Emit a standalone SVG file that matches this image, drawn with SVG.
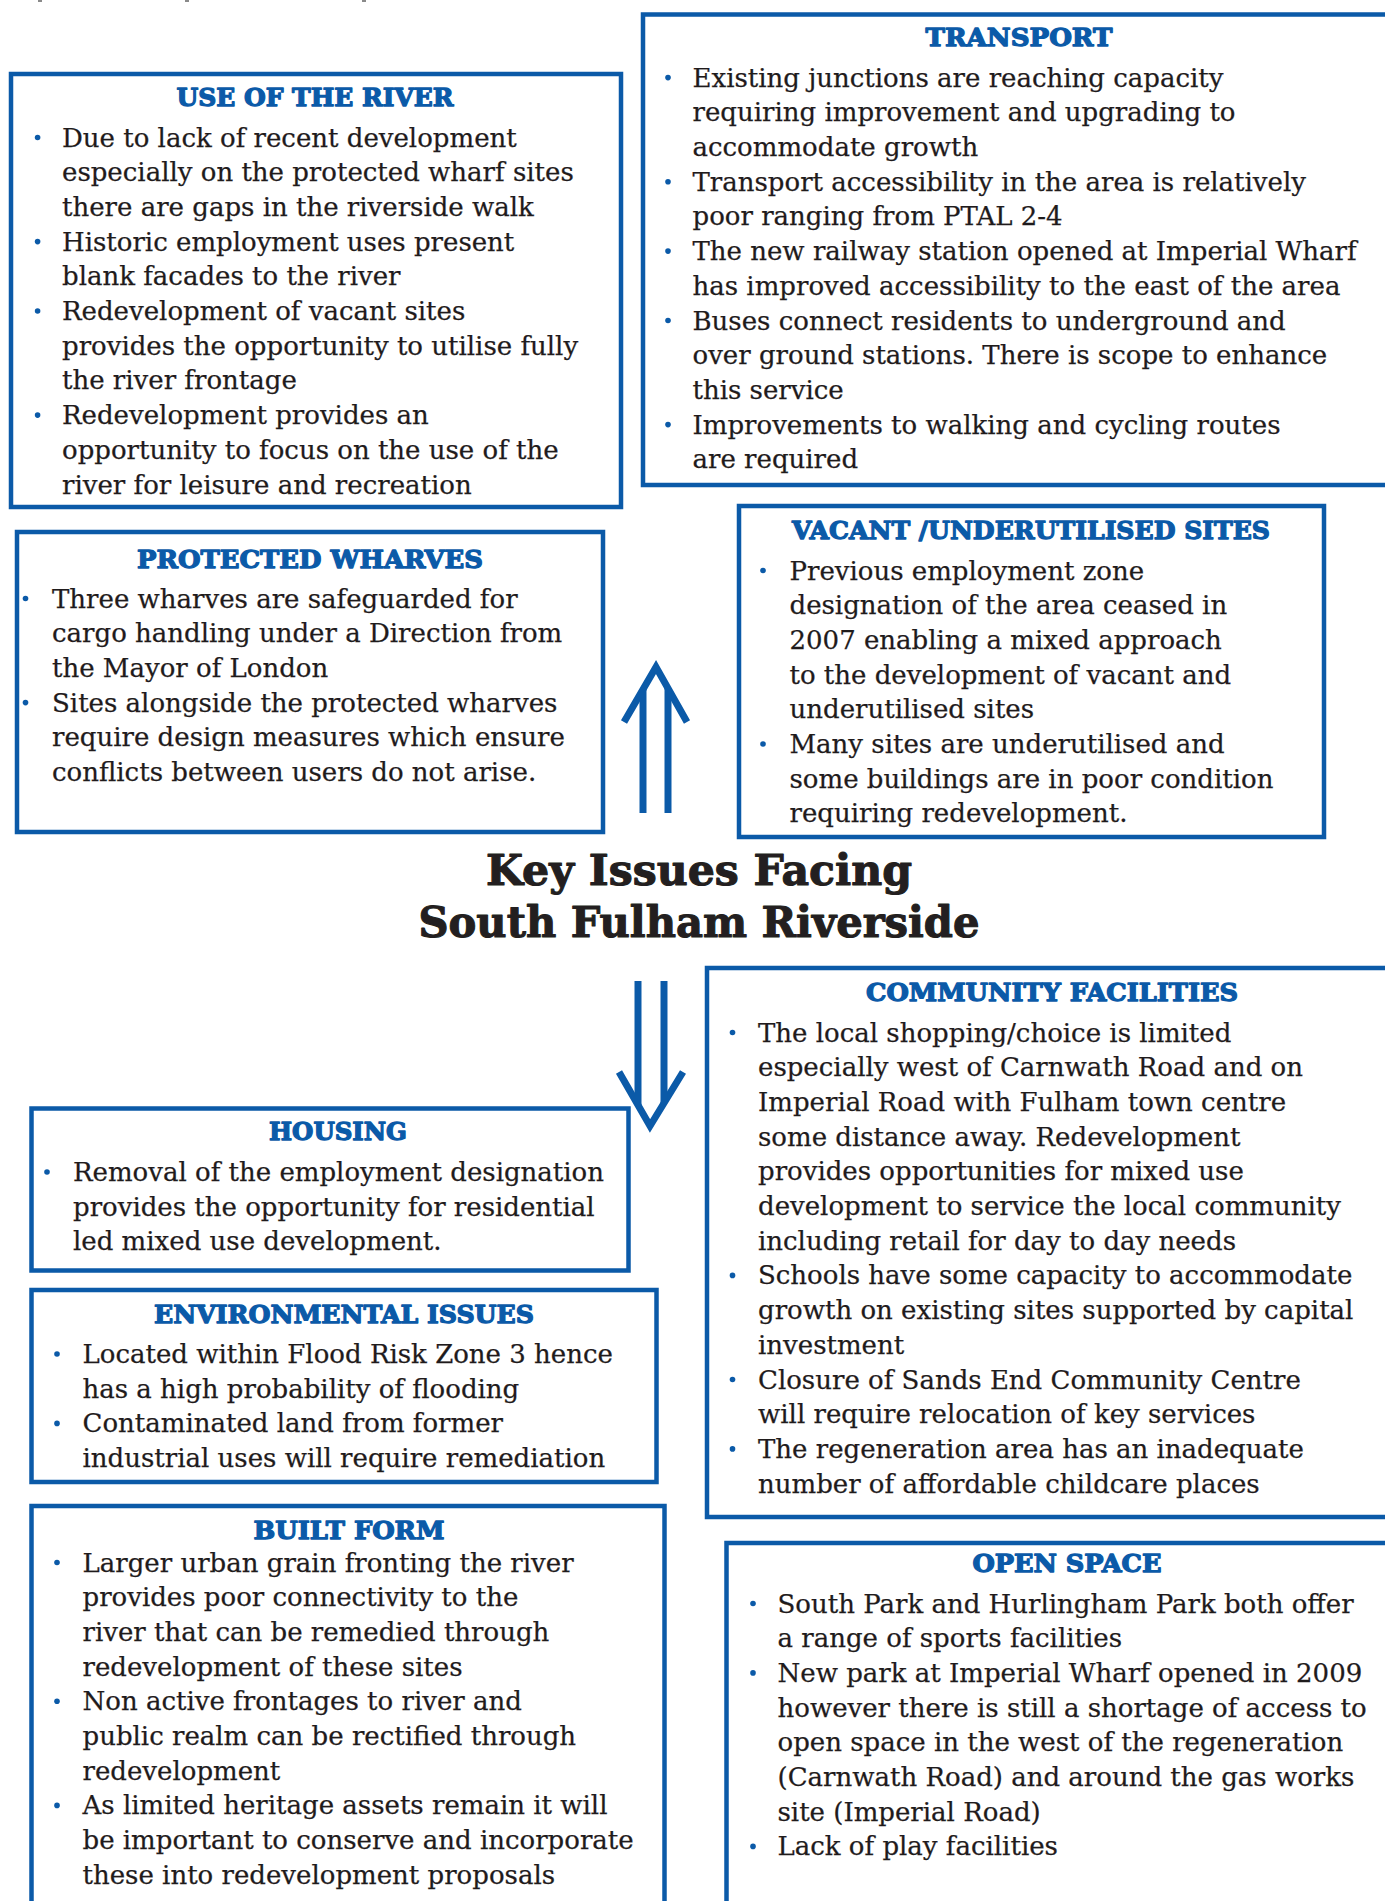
<svg xmlns="http://www.w3.org/2000/svg" width="1385" height="1901" viewBox="0 0 1385 1901">
  <defs>
    <style>
      .box { fill: none; stroke: #0b5aa8; stroke-width: 4.5; }
      .hd { font-family: "DejaVu Serif", "Liberation Serif", serif; font-weight: bold; font-size: 25px; fill: #0b5aa8; stroke: #0b5aa8; stroke-width: 1.3; stroke-linejoin: round; text-anchor: middle; }
      .tx { font-family: "DejaVu Serif", "Liberation Serif", serif; font-size: 26px; fill: #1f1b1c; stroke: #1f1b1c; stroke-width: 0.25; }
      .dot { fill: #0b5aa8; }
      .ttl { font-family: "DejaVu Serif", "Liberation Serif", serif; font-weight: bold; font-size: 42px; fill: #231f20; stroke: #231f20; stroke-width: 1.1; stroke-linejoin: round; text-anchor: middle; }
      .arw { fill: none; stroke: #0b5aa8; stroke-width: 7; stroke-linecap: butt; stroke-linejoin: miter; }
      .frag { fill: #8a8a8a; }
    </style>
  </defs>
  <rect width="1385" height="1901" fill="#ffffff"/>

  <!-- descender fragments of a caption cropped off the top edge -->
  <g id="cropped-caption">
    <rect class="frag" x="38" y="0" width="4" height="2"/>
    <rect class="frag" x="185" y="0" width="4" height="2"/>
    <rect class="frag" x="362" y="0" width="4" height="2"/>
  </g>

  <!-- central heading -->
  <g id="title">
    <text class="ttl" x="699" y="885" textLength="426" lengthAdjust="spacingAndGlyphs">Key Issues Facing</text>
    <text class="ttl" x="699" y="937" textLength="561" lengthAdjust="spacingAndGlyphs">South Fulham Riverside</text>
  </g>

  <!-- connectors: double-stroke arrows above and below the heading -->
  <g id="connectors">
    <g id="arrow-up">
      <polyline class="arw" points="624,722 656,667 687,722"/>
      <line class="arw" x1="643" y1="813" x2="643" y2="689"/>
      <line class="arw" x1="668" y1="813" x2="668" y2="688"/>
    </g>
    <g id="arrow-down">
      <polyline class="arw" points="619,1072 650,1126 683,1072"/>
      <line class="arw" x1="638" y1="981" x2="638" y2="1105"/>
      <line class="arw" x1="664" y1="981" x2="664" y2="1103"/>
    </g>
  </g>

  <g id="use-of-the-river">
    <rect class="box" x="11" y="74" width="610" height="433"/>
    <text class="hd" x="315" y="106" textLength="277" lengthAdjust="spacingAndGlyphs">USE OF THE RIVER</text>
    <circle class="dot" cx="37.6" cy="137.5" r="2.8"/>
    <circle class="dot" cx="37.6" cy="241.6" r="2.8"/>
    <circle class="dot" cx="37.6" cy="311" r="2.8"/>
    <circle class="dot" cx="37.6" cy="415.1" r="2.8"/>
    <text class="tx" y="146.5">
      <tspan x="62">Due to lack of recent development</tspan>
      <tspan x="62" dy="34.7">especially on the protected wharf sites</tspan>
      <tspan x="62" dy="34.7">there are gaps in the riverside walk</tspan>
      <tspan x="62" dy="34.7">Historic employment uses present</tspan>
      <tspan x="62" dy="34.7">blank facades to the river</tspan>
      <tspan x="62" dy="34.7">Redevelopment of vacant sites</tspan>
      <tspan x="62" dy="34.7">provides the opportunity to utilise fully</tspan>
      <tspan x="62" dy="34.7">the river frontage</tspan>
      <tspan x="62" dy="34.7">Redevelopment provides an</tspan>
      <tspan x="62" dy="34.7">opportunity to focus on the use of the</tspan>
      <tspan x="62" dy="34.7">river for leisure and recreation</tspan>
    </text>
  </g>

  <g id="transport">
    <rect class="box" x="643" y="14.5" width="760" height="470.5"/>
    <text class="hd" x="1019" y="45.5" textLength="187" lengthAdjust="spacingAndGlyphs">TRANSPORT</text>
    <circle class="dot" cx="668" cy="77.6" r="2.8"/>
    <circle class="dot" cx="668" cy="181.7" r="2.8"/>
    <circle class="dot" cx="668" cy="251.1" r="2.8"/>
    <circle class="dot" cx="668" cy="320.5" r="2.8"/>
    <circle class="dot" cx="668" cy="424.6" r="2.8"/>
    <text class="tx" y="86.6">
      <tspan x="692.5">Existing junctions are reaching capacity</tspan>
      <tspan x="692.5" dy="34.7">requiring improvement and upgrading to</tspan>
      <tspan x="692.5" dy="34.7">accommodate growth</tspan>
      <tspan x="692.5" dy="34.7">Transport accessibility in the area is relatively</tspan>
      <tspan x="692.5" dy="34.7">poor ranging from PTAL 2-4</tspan>
      <tspan x="692.5" dy="34.7">The new railway station opened at Imperial Wharf</tspan>
      <tspan x="692.5" dy="34.7">has improved accessibility to the east of the area</tspan>
      <tspan x="692.5" dy="34.7">Buses connect residents to underground and</tspan>
      <tspan x="692.5" dy="34.7">over ground stations. There is scope to enhance</tspan>
      <tspan x="692.5" dy="34.7">this service</tspan>
      <tspan x="692.5" dy="34.7">Improvements to walking and cycling routes</tspan>
      <tspan x="692.5" dy="34.7">are required</tspan>
    </text>
  </g>

  <g id="protected-wharves">
    <rect class="box" x="17" y="532" width="586" height="300"/>
    <text class="hd" x="310" y="567.5" textLength="346" lengthAdjust="spacingAndGlyphs">PROTECTED WHARVES</text>
    <circle class="dot" cx="25.5" cy="598.5" r="2.8"/>
    <circle class="dot" cx="25.5" cy="702.6" r="2.8"/>
    <text class="tx" y="607.5">
      <tspan x="52">Three wharves are safeguarded for</tspan>
      <tspan x="52" dy="34.7">cargo handling under a Direction from</tspan>
      <tspan x="52" dy="34.7">the Mayor of London</tspan>
      <tspan x="52" dy="34.7">Sites alongside the protected wharves</tspan>
      <tspan x="52" dy="34.7">require design measures which ensure</tspan>
      <tspan x="52" dy="34.7">conflicts between users do not arise.</tspan>
    </text>
  </g>

  <g id="vacant-underutilised-sites">
    <rect class="box" x="739" y="506" width="585" height="331"/>
    <text class="hd" x="1031" y="539" textLength="478" lengthAdjust="spacingAndGlyphs">VACANT /UNDERUTILISED SITES</text>
    <circle class="dot" cx="763" cy="570.5" r="2.8"/>
    <circle class="dot" cx="763" cy="744" r="2.8"/>
    <text class="tx" y="579.5">
      <tspan x="789.5">Previous employment zone</tspan>
      <tspan x="789.5" dy="34.7">designation of the area ceased in</tspan>
      <tspan x="789.5" dy="34.7">2007 enabling a mixed approach</tspan>
      <tspan x="789.5" dy="34.7">to the development of vacant and</tspan>
      <tspan x="789.5" dy="34.7">underutilised sites</tspan>
      <tspan x="789.5" dy="34.7">Many sites are underutilised and</tspan>
      <tspan x="789.5" dy="34.7">some buildings are in poor condition</tspan>
      <tspan x="789.5" dy="34.7">requiring redevelopment.</tspan>
    </text>
  </g>

  <g id="community-facilities">
    <rect class="box" x="707" y="968" width="700" height="549"/>
    <text class="hd" x="1052" y="1000.5" textLength="372" lengthAdjust="spacingAndGlyphs">COMMUNITY FACILITIES</text>
    <circle class="dot" cx="732.5" cy="1032.5" r="2.8"/>
    <circle class="dot" cx="732.5" cy="1275.4" r="2.8"/>
    <circle class="dot" cx="732.5" cy="1379.5" r="2.8"/>
    <circle class="dot" cx="732.5" cy="1448.9" r="2.8"/>
    <text class="tx" y="1041.5">
      <tspan x="758">The local shopping/choice is limited</tspan>
      <tspan x="758" dy="34.7">especially west of Carnwath Road and on</tspan>
      <tspan x="758" dy="34.7">Imperial Road with Fulham town centre</tspan>
      <tspan x="758" dy="34.7">some distance away. Redevelopment</tspan>
      <tspan x="758" dy="34.7">provides opportunities for mixed use</tspan>
      <tspan x="758" dy="34.7">development to service the local community</tspan>
      <tspan x="758" dy="34.7">including retail for day to day needs</tspan>
      <tspan x="758" dy="34.7">Schools have some capacity to accommodate</tspan>
      <tspan x="758" dy="34.7">growth on existing sites supported by capital</tspan>
      <tspan x="758" dy="34.7">investment</tspan>
      <tspan x="758" dy="34.7">Closure of Sands End Community Centre</tspan>
      <tspan x="758" dy="34.7">will require relocation of key services</tspan>
      <tspan x="758" dy="34.7">The regeneration area has an inadequate</tspan>
      <tspan x="758" dy="34.7">number of affordable childcare places</tspan>
    </text>
  </g>

  <g id="housing">
    <rect class="box" x="31.5" y="1108.5" width="597" height="162"/>
    <text class="hd" x="338" y="1139.5" textLength="138" lengthAdjust="spacingAndGlyphs">HOUSING</text>
    <circle class="dot" cx="47" cy="1172" r="2.8"/>
    <text class="tx" y="1181">
      <tspan x="73">Removal of the employment designation</tspan>
      <tspan x="73" dy="34.7">provides the opportunity for residential</tspan>
      <tspan x="73" dy="34.7">led mixed use development.</tspan>
    </text>
  </g>

  <g id="environmental-issues">
    <rect class="box" x="31.5" y="1290" width="625" height="192"/>
    <text class="hd" x="344" y="1322.5" textLength="380" lengthAdjust="spacingAndGlyphs">ENVIRONMENTAL ISSUES</text>
    <circle class="dot" cx="57" cy="1354" r="2.8"/>
    <circle class="dot" cx="57" cy="1423.4" r="2.8"/>
    <text class="tx" y="1363">
      <tspan x="82.5">Located within Flood Risk Zone 3 hence</tspan>
      <tspan x="82.5" dy="34.7">has a high probability of flooding</tspan>
      <tspan x="82.5" dy="34.7">Contaminated land from former</tspan>
      <tspan x="82.5" dy="34.7">industrial uses will require remediation</tspan>
    </text>
  </g>

  <g id="built-form">
    <rect class="box" x="31.5" y="1506" width="633" height="420"/>
    <text class="hd" x="349" y="1538.5" textLength="191" lengthAdjust="spacingAndGlyphs">BUILT FORM</text>
    <circle class="dot" cx="57" cy="1562.5" r="2.8"/>
    <circle class="dot" cx="57" cy="1701.3" r="2.8"/>
    <circle class="dot" cx="57" cy="1805.4" r="2.8"/>
    <text class="tx" y="1571.5">
      <tspan x="82.5">Larger urban grain fronting the river</tspan>
      <tspan x="82.5" dy="34.7">provides poor connectivity to the</tspan>
      <tspan x="82.5" dy="34.7">river that can be remedied through</tspan>
      <tspan x="82.5" dy="34.7">redevelopment of these sites</tspan>
      <tspan x="82.5" dy="34.7">Non active frontages to river and</tspan>
      <tspan x="82.5" dy="34.7">public realm can be rectified through</tspan>
      <tspan x="82.5" dy="34.7">redevelopment</tspan>
      <tspan x="82.5" dy="34.7">As limited heritage assets remain it will</tspan>
      <tspan x="82.5" dy="34.7">be important to conserve and incorporate</tspan>
      <tspan x="82.5" dy="34.7">these into redevelopment proposals</tspan>
    </text>
  </g>

  <g id="open-space">
    <rect class="box" x="726.5" y="1543" width="680" height="400"/>
    <text class="hd" x="1067" y="1571.5" textLength="189" lengthAdjust="spacingAndGlyphs">OPEN SPACE</text>
    <circle class="dot" cx="753" cy="1603.5" r="2.8"/>
    <circle class="dot" cx="753" cy="1672.9" r="2.8"/>
    <circle class="dot" cx="753" cy="1846.4" r="2.8"/>
    <text class="tx" y="1612.5">
      <tspan x="777.5">South Park and Hurlingham Park both offer</tspan>
      <tspan x="777.5" dy="34.7">a range of sports facilities</tspan>
      <tspan x="777.5" dy="34.7">New park at Imperial Wharf opened in 2009</tspan>
      <tspan x="777.5" dy="34.7">however there is still a shortage of access to</tspan>
      <tspan x="777.5" dy="34.7">open space in the west of the regeneration</tspan>
      <tspan x="777.5" dy="34.7">(Carnwath Road) and around the gas works</tspan>
      <tspan x="777.5" dy="34.7">site (Imperial Road)</tspan>
      <tspan x="777.5" dy="34.7">Lack of play facilities</tspan>
    </text>
  </g>
</svg>
